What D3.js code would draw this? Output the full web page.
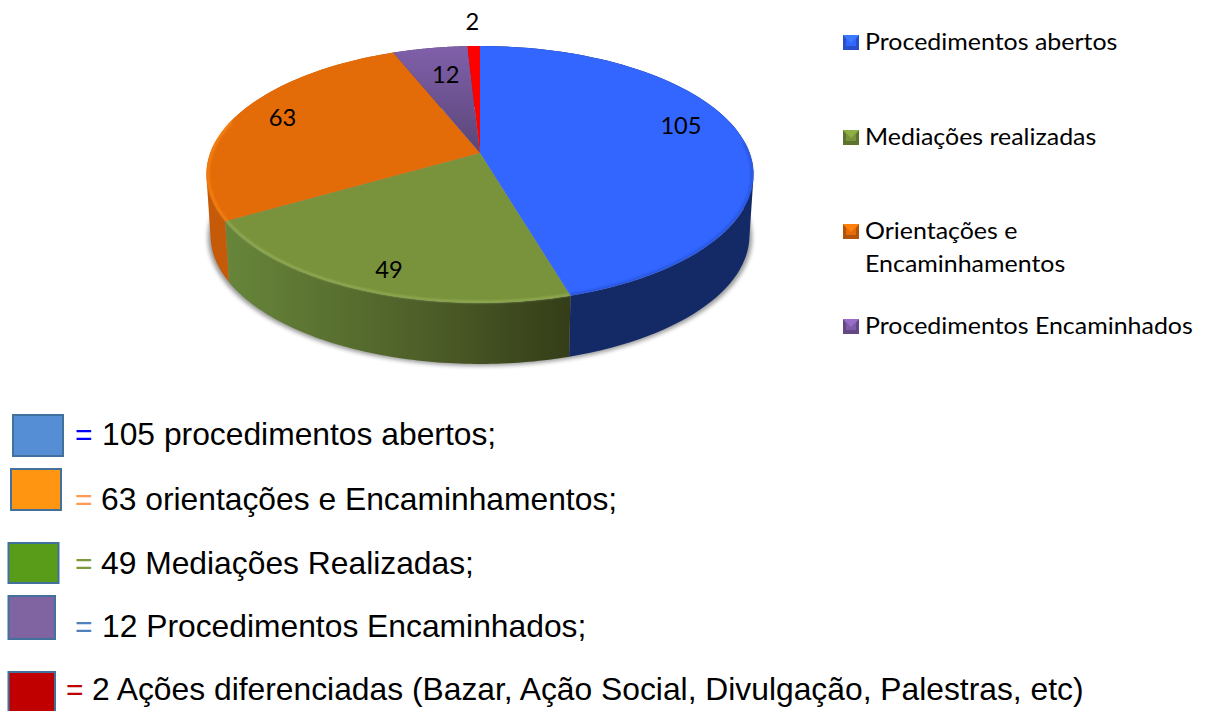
<!DOCTYPE html>
<html>
<head>
<meta charset="utf-8">
<script src="https://cdn.jsdelivr.net/npm/d3@7"></script>
<style>
html, body { margin: 0; padding: 0; background: #fff; }
svg { display: block; }
</style>
</head>
<body>
<div id="chart"></div>
<script>
var categories = ["Procedimentos abertos", "Mediações realizadas", "Orientações e Encaminhamentos", "Procedimentos Encaminhados", "Ações diferenciadas"];
var values = [105, 49, 63, 12, 2];
var legendLines = [["Procedimentos abertos"], ["Mediações realizadas"], ["Orientações e", "Encaminhamentos"], ["Procedimentos Encaminhados"]];
var noteLines = ["105 procedimentos abertos;", "63 orientações e Encaminhamentos;", "49 Mediações Realizadas;", "12 Procedimentos Encaminhados;", "2 Ações diferenciadas (Bazar, Ação Social, Divulgação, Palestras, etc)"];

var topColors = ["#3366ff", "#78933b", "#e36c09", "url(#purpleTop)", "#ff0000"];
var sideColors = ["#142a66", "url(#greenSide)", "#c55a08", "#4d3a6b", "#a00000"];
var legendColors = ["#3366ff", "#78933b", "#e36c09", "#7f5ca8"];
var noteFill = ["#558ed5", "#ff9510", "#589c19", "#8064a2", "#c00000"];
var equalFill = ["#0000ff", "#ff9a50", "#7f9a3e", "#4f81bd", "#c00000"];

var width = 1206, height = 711;

// disc projection, fitted to the tilted pie
var cx = 480, apexY = 153, discA = 269.7, discB = 124.9, persp = -0.167;
var depth = 61, bottomScale = 0.985;
// the picture is a little stretched sideways, the chart text follows it
var chartStretch = 1.085;

function project(angle, r) {
	var u = Math.sin(angle) * r, v = -Math.cos(angle) * r;
	var w = 1 + persp * v;
	return [cx + discA * u / w, apexY + discB * v / w];
}
function projectBottom(angle) {
	var p = project(angle, 1);
	return [cx + (p[0] - cx) * bottomScale, p[1] + depth];
}

var svg = d3.select("#chart").append("svg")
	.attr("width", width)
	.attr("height", height);

var defs = svg.append("defs");

var greenSide = defs.append("linearGradient").attr("id", "greenSide")
	.attr("gradientUnits", "userSpaceOnUse")
	.attr("x1", 226).attr("x2", 571).attr("y1", 0).attr("y2", 0);
greenSide.append("stop").attr("offset", 0).attr("stop-color", "#67863a");
greenSide.append("stop").attr("offset", 0.55).attr("stop-color", "#4f6029");
greenSide.append("stop").attr("offset", 1).attr("stop-color", "#343d18");

var purpleTop = defs.append("linearGradient").attr("id", "purpleTop")
	.attr("gradientUnits", "userSpaceOnUse")
	.attr("x1", 0).attr("x2", 0).attr("y1", 46).attr("y2", 153);
purpleTop.append("stop").attr("offset", 0).attr("stop-color", "#8060aa");
purpleTop.append("stop").attr("offset", 1).attr("stop-color", "#5a4678");

defs.append("filter").attr("id", "soft")
	.attr("x", "-5%").attr("y", "-5%").attr("width", "110%").attr("height", "110%")
	.append("feGaussianBlur").attr("stdDeviation", 2);
defs.append("filter").attr("id", "rim")
	.attr("x", "-5%").attr("y", "-5%").attr("width", "110%").attr("height", "110%")
	.append("feGaussianBlur").attr("stdDeviation", 0.8);

var pie = d3.pie().sort(null).value(function (d) { return d; });
var slices = pie(values);
var line = d3.line();

function arcPoints(from, to, n, fn) {
	return d3.range(0, n + 1).map(function (i) { return fn(from + (to - from) * i / n); });
}
function topPath(d) {
	var pts = arcPoints(d.startAngle, d.endAngle, 40, function (t) { return project(t, 1); });
	return line([[cx, apexY]].concat(pts)) + "Z";
}
// wall as small quads, all wound the same way, so the tangent edge at the far left and right is filled too
function sidePath(d) {
	var n = 80, step = (d.endAngle - d.startAngle) / n;
	return d3.range(0, n).map(function (i) {
		var a = d.startAngle + step * i, b = a + step;
		var quad = [project(a, 1), project(b, 1), projectBottom(b), projectBottom(a)];
		if (d3.polygonArea(quad) < 0) quad.reverse();
		return line(quad) + "Z";
	}).join("");
}

// shadow under the pie
svg.append("path")
	.attr("d", line(arcPoints(0, 2 * Math.PI, 120, function (t) {
		var p = projectBottom(t);
		return [cx + (p[0] - cx) * 1.01, p[1] + 2];
	})) + "Z")
	.attr("fill", "#000")
	.attr("opacity", 0.4)
	.attr("filter", "url(#soft)");

svg.append("g").selectAll("path")
	.data(slices)
	.join("path")
	.attr("d", sidePath)
	.attr("fill", function (d, i) { return sideColors[i]; });

svg.append("g").selectAll("path")
	.data(slices)
	.join("path")
	.attr("d", topPath)
	.attr("fill", function (d, i) { return topColors[i]; });

// soft bevel on the front rim: degrees from, degrees to, colour, opacity
var rims = [
	[85, 163.6, "#1c3aa8", 0.55],
	[163.6, 240, "#a9c26c", 0.75],
	[240, 285, "#ff8f1f", 0.95]
];
svg.append("g").selectAll("path")
	.data(rims)
	.join("path")
	.attr("d", function (d) {
		return line(arcPoints(d[0] * Math.PI / 180, d[1] * Math.PI / 180, 40, function (t) {
			return project(t, 0.994);
		}));
	})
	.attr("fill", "none")
	.attr("stroke", function (d) { return d[2]; })
	.attr("stroke-width", 1.6)
	.attr("opacity", function (d) { return d[3]; })
	.attr("filter", "url(#rim)");

// data labels, radius and turn per slice
var labelR = [0.805, 0.86, 0.824, 0.712, 1.27];
var labelTurn = [-8, -2, 2, 1, 0];

svg.append("g").selectAll("text")
	.data(slices)
	.join("text")
	.attr("transform", function (d, i) {
		var mid = (d.startAngle + d.endAngle) / 2 + labelTurn[i] * Math.PI / 180;
		return "translate(" + project(mid, labelR[i]) + ") scale(1.03,1)";
	})
	.attr("text-anchor", "middle")
	.attr("dy", ".35em")
	.style("font", "23px Lato")
	.attr("fill", "#000")
	.text(function (d) { return d.value; });

// chart legend
var legendY = [35, 130, 224, 319];
var legend = svg.append("g").selectAll("g")
	.data(legendLines)
	.join("g")
	.attr("transform", function (d, i) { return "translate(843," + legendY[i] + ")"; });

legend.append("rect")
	.attr("width", 16).attr("height", 15)
	.attr("fill", function (d, i) { return d3.color(legendColors[i]).darker(0.7); });
legend.append("path")
	.attr("d", "M0,0H16L13,4V11H3V4Z")
	.attr("fill", function (d, i) { return legendColors[i]; });
legend.append("path")
	.attr("d", "M0,0H16L8,8Z")
	.attr("fill", function (d, i) { return d3.color(legendColors[i]).brighter(0.5); });

legend.selectAll("text")
	.data(function (d) { return d; })
	.join("text")
	.attr("transform", function (d, i) { return "translate(22," + (15 + i * 33) + ") scale(" + chartStretch + ",1)"; })
	.style("font", "23px Lato")
	.attr("fill", "#000")
	.text(function (d) { return d; });

// notes below the chart
var noteRect = [[13, 415, 50, 41], [11, 469, 50, 41], [8.5, 543, 50, 40], [8.5, 596, 46.5, 43], [8.5, 672, 46.5, 42]];
var noteBase = [445, 510, 574, 637, 700];
var equalX = [75, 75, 75, 75, 66];
var noteX = [102, 101, 101, 102, 92];

var notes = svg.append("g").selectAll("g")
	.data(noteLines)
	.join("g");

notes.append("rect")
	.attr("x", function (d, i) { return noteRect[i][0]; })
	.attr("y", function (d, i) { return noteRect[i][1]; })
	.attr("width", function (d, i) { return noteRect[i][2]; })
	.attr("height", function (d, i) { return noteRect[i][3]; })
	.attr("fill", function (d, i) { return noteFill[i]; })
	.attr("stroke", "#41719c")
	.attr("stroke-width", 2);

notes.append("text")
	.attr("x", function (d, i) { return equalX[i]; })
	.attr("y", function (d, i) { return noteBase[i]; })
	.style("font", "30px 'Liberation Sans'")
	.attr("fill", function (d, i) { return equalFill[i]; })
	.text("=");

notes.append("text")
	.attr("x", function (d, i) { return noteX[i]; })
	.attr("y", function (d, i) { return noteBase[i]; })
	.style("font", "31.8px 'Liberation Sans'")
	.attr("fill", "#000")
	.text(function (d) { return d; });
</script>
</body>
</html>
